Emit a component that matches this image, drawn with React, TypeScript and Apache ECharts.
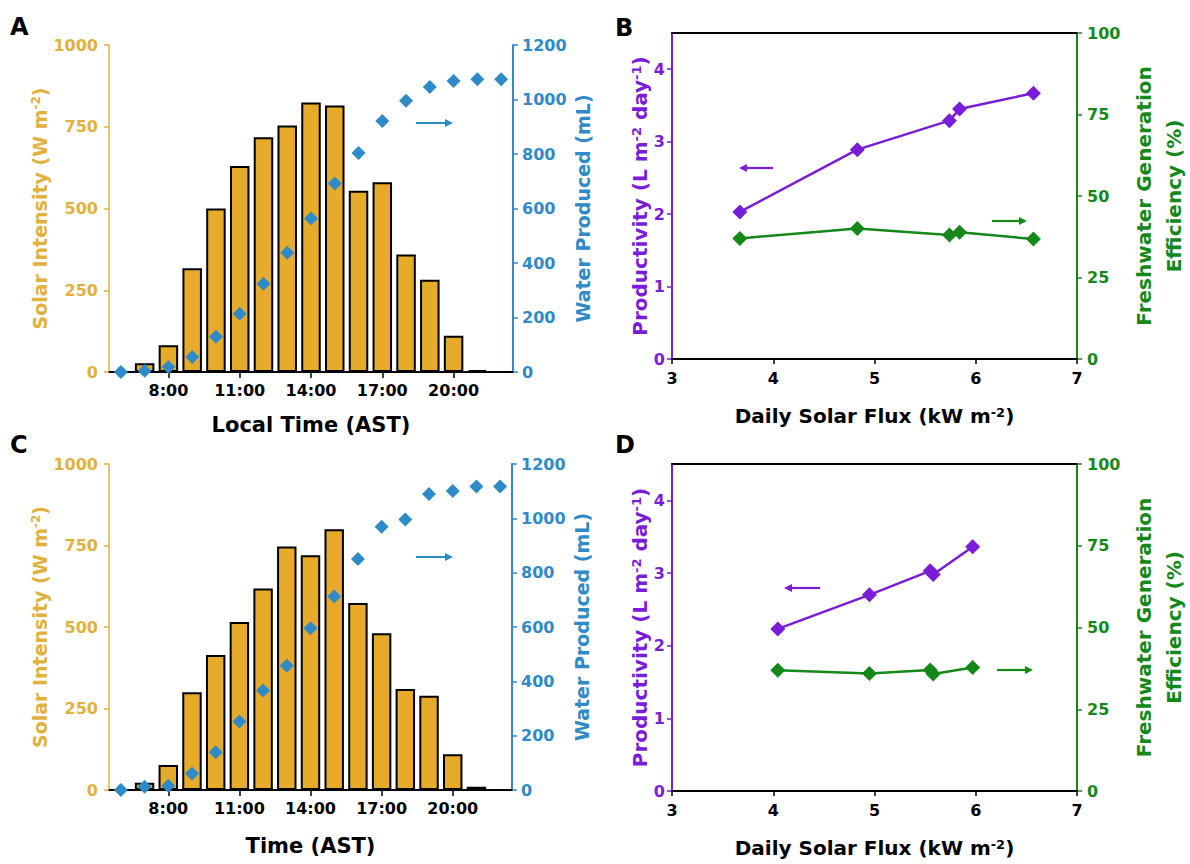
import React, { useEffect, useRef } from 'react';
import * as echarts from 'echarts';

// ---------- data ----------
const hours = ['6:00', '7:00', '8:00', '9:00', '10:00', '11:00', '12:00', '13:00', '14:00', '15:00', '16:00', '17:00', '18:00', '19:00', '20:00', '21:00', '22:00'];
const labeledHours = ['8:00', '11:00', '14:00', '17:00', '20:00'];

const solarA = [null, 27, 82, 317, 500, 630, 718, 754, 824, 815, 554, 580, 359, 282, 111, 6, null];
const waterA = [0, 5, 18, 55, 129, 214, 324, 438, 563, 692, 804, 921, 995, 1046, 1068, 1074, 1074];

const solarC = [null, 22, 77, 300, 414, 515, 618, 747, 720, 800, 574, 481, 310, 289, 110, 10, null];
const waterC = [0, 12, 16, 61, 139, 252, 366, 457, 595, 712, 850, 969, 996, 1090, 1101, 1117, 1117];

const fluxB = [3.67, 4.83, 5.74, 5.84, 6.57];
const prodB = [2.03, 2.89, 3.29, 3.45, 3.67];
const effB = [37.0, 40.0, 38.0, 38.9, 36.8];

const fluxD = [4.045, 4.95, 5.55, 5.58, 5.97];
const prodD = [2.23, 2.70, 3.03, 2.98, 3.36];
const effD = [36.9, 35.9, 37.0, 35.8, 37.8];

const prodTicks = [0, 1, 2, 3, 4];

// ---------- styles ----------
const FONT = '"DejaVu Sans", "Liberation Sans", sans-serif';
const GOLD = '#E2B13C';
const BAR = '#E6AB2B';
const BLUE = '#2E8BC8';
const PURPLE = '#7A1DD8';
const GREEN = '#14891A';

const plain = (v: number) => String(v);

const supStyle = (color: string, size = 12) => ({
  fontSize: size,
  fontWeight: 'bold',
  fontFamily: FONT,
  color,
  verticalAlign: 'top',
});

const tickLabel = (color: string, margin: number) => ({
  color,
  fontSize: 16,
  fontWeight: 'bold',
  fontFamily: FONT,
  margin,
  formatter: plain,
});

function catBottomAxis(gridIndex: number, name: string, gap: number) {
  return {
    type: 'category',
    gridIndex,
    data: hours,
    position: 'bottom',
    boundaryGap: true,
    name,
    nameLocation: 'middle',
    nameGap: gap,
    nameTextStyle: { fontSize: 21, fontWeight: 'bold', fontFamily: FONT, color: '#000' },
    axisLine: { lineStyle: { color: '#000', width: 2 } },
    axisTick: {
      show: true,
      alignWithLabel: true,
      interval: (i: number, v: string) => labeledHours.includes(v),
      length: 6,
      lineStyle: { color: '#000', width: 1.5 },
    },
    axisLabel: {
      color: '#000',
      fontSize: 16,
      fontWeight: 'bold',
      fontFamily: FONT,
      margin: 10,
      interval: (i: number, v: string) => labeledHours.includes(v),
    },
    splitLine: { show: false },
  };
}

function catTopAxis(gridIndex: number) {
  return {
    type: 'category',
    gridIndex,
    data: hours,
    position: 'top',
    axisLine: { lineStyle: { color: '#000', width: 2 } },
    axisTick: { show: false },
    axisLabel: { show: false },
    splitLine: { show: false },
  };
}

function fluxBottomAxis(gridIndex: number, gap: number) {
  return {
    type: 'value',
    gridIndex,
    min: 3,
    max: 7,
    interval: 1,
    position: 'bottom',
    name: 'Daily Solar Flux (kW m{sup|-2})',
    nameLocation: 'middle',
    nameGap: gap,
    nameTextStyle: {
      fontSize: 20, fontWeight: 'bold', fontFamily: FONT, color: '#000',
      rich: { sup: supStyle('#000', 13) },
    },
    axisLine: { onZero: false, lineStyle: { color: '#000', width: 2 } },
    axisTick: { show: true, length: 5, lineStyle: { color: '#000', width: 1.5 } },
    axisLabel: tickLabel('#000', 11),
    splitLine: { show: false },
  };
}

function fluxTopAxis(gridIndex: number) {
  return {
    type: 'value',
    gridIndex,
    min: 3,
    max: 7,
    interval: 1,
    position: 'top',
    axisLine: { onZero: false, lineStyle: { color: '#000', width: 2 } },
    axisTick: { show: false },
    axisLabel: { show: false },
    splitLine: { show: false },
  };
}

function solarAxis(gridIndex: number) {
  return {
    type: 'value',
    gridIndex,
    position: 'left',
    min: 0,
    max: 1000,
    interval: 250,
    name: 'Solar Intensity (W m{sup|-2})',
    nameLocation: 'middle',
    nameRotate: 90,
    nameGap: 60,
    nameTextStyle: {
      fontSize: 19, fontWeight: 'bold', fontFamily: FONT, color: GOLD,
      rich: { sup: supStyle(GOLD, 12) },
    },
    axisLine: { show: true, onZero: false, lineStyle: { color: GOLD, width: 1.5 } },
    axisTick: { show: true, length: 5, lineStyle: { color: GOLD, width: 1.5 } },
    axisLabel: tickLabel(GOLD, 11),
    splitLine: { show: false },
  };
}

function waterAxis(gridIndex: number) {
  return {
    type: 'value',
    gridIndex,
    position: 'right',
    min: 0,
    max: 1200,
    interval: 200,
    name: 'Water Produced (mL)',
    nameLocation: 'middle',
    nameRotate: 90,
    nameGap: 60,
    nameTextStyle: { fontSize: 19, fontWeight: 'bold', fontFamily: FONT, color: BLUE },
    axisLine: { show: true, onZero: false, lineStyle: { color: BLUE, width: 2 } },
    axisTick: { show: true, length: 5, lineStyle: { color: BLUE, width: 1.5 } },
    axisLabel: tickLabel(BLUE, 9),
    splitLine: { show: false },
  };
}

function prodAxis(gridIndex: number) {
  return {
    type: 'value',
    gridIndex,
    position: 'left',
    min: 0,
    max: 4.5,
    interval: 1,
    name: 'Productivity (L m{sup|-2} day{sup|-1})',
    nameLocation: 'middle',
    nameRotate: 90,
    nameGap: 22,
    nameTextStyle: {
      fontSize: 20, fontWeight: 'bold', fontFamily: FONT, color: PURPLE,
      rich: { sup: supStyle(PURPLE, 13) },
    },
    axisLine: { show: true, onZero: false, lineStyle: { color: PURPLE, width: 2 } },
    axisTick: { show: true, length: 5, customValues: prodTicks, lineStyle: { color: PURPLE, width: 1.5 } },
    axisLabel: { ...tickLabel(PURPLE, 7), customValues: prodTicks },
    splitLine: { show: false },
  };
}

function effAxis(gridIndex: number) {
  return {
    type: 'value',
    gridIndex,
    position: 'right',
    min: 0,
    max: 100,
    interval: 25,
    name: 'Freshwater Generation\nEfficiency (%)',
    nameLocation: 'middle',
    nameRotate: 90,
    nameGap: 52,
    nameTextStyle: { fontSize: 20, lineHeight: 30, fontWeight: 'bold', fontFamily: FONT, color: GREEN },
    axisLine: { show: true, onZero: false, lineStyle: { color: GREEN, width: 2 } },
    axisTick: { show: true, length: 5, lineStyle: { color: GREEN, width: 1.5 } },
    axisLabel: tickLabel(GREEN, 10),
    splitLine: { show: false },
  };
}

function barSeries(xi: number, yi: number, data: (number | null)[]) {
  return {
    type: 'bar',
    xAxisIndex: xi,
    yAxisIndex: yi,
    data,
    barCategoryGap: '18%',
    itemStyle: { color: BAR, borderColor: '#000', borderWidth: 2 },
    z: 2,
  };
}

function waterSeries(xi: number, yi: number, data: number[]) {
  return {
    type: 'scatter',
    xAxisIndex: xi,
    yAxisIndex: yi,
    data,
    symbol: 'diamond',
    symbolSize: 14,
    itemStyle: { color: BLUE, opacity: 1 },
    z: 3,
  };
}

function lineSeries(xi: number, yi: number, xs: number[], ys: number[], color: string) {
  return {
    type: 'line',
    xAxisIndex: xi,
    yAxisIndex: yi,
    data: xs.map((x, i) => [x, ys[i]]),
    symbol: 'diamond',
    symbolSize: 15,
    showSymbol: true,
    lineStyle: { color, width: 2.5 },
    itemStyle: { color, opacity: 1 },
    z: 3,
  };
}

function arrow(x1: number, x2: number, y: number, dir: 'left' | 'right', color: string) {
  const tip = dir === 'right' ? x2 : x1;
  const back = dir === 'right' ? x2 - 8 : x1 + 8;
  return {
    type: 'group',
    children: [
      {
        type: 'line',
        shape: { x1: dir === 'right' ? x1 : x1 + 4, y1: y, x2: dir === 'right' ? x2 - 4 : x2, y2: y },
        style: { stroke: color, lineWidth: 2.2 },
      },
      {
        type: 'polygon',
        shape: { points: [[tip, y], [back, y - 4], [back, y + 4]] },
        style: { fill: color },
      },
    ],
  };
}

function panelLetter(text: string, left: number, top: number) {
  return {
    type: 'text',
    left,
    top,
    style: { text, font: `bold 24px ${FONT}`, fill: '#000' },
  };
}

export default function App() {
  const ref = useRef<HTMLDivElement>(null);

  useEffect(() => {
    if (!ref.current) return;
    const chart = echarts.init(ref.current, undefined, { renderer: 'svg' });
    const option: any = {
      animation: false,
      backgroundColor: '#fff',
      grid: [
        { left: 109, top: 45, width: 404, height: 327 },
        { left: 672, top: 33, width: 405, height: 326 },
        { left: 109, top: 464, width: 403, height: 326 },
        { left: 672, top: 464, width: 405, height: 327 },
      ],
      xAxis: [
        catBottomAxis(0, 'Local Time (AST)', 42),
        catTopAxis(0),
        fluxBottomAxis(1, 47),
        fluxTopAxis(1),
        catBottomAxis(2, 'Time (AST)', 45),
        catTopAxis(2),
        fluxBottomAxis(3, 47),
        fluxTopAxis(3),
      ],
      yAxis: [
        solarAxis(0),
        waterAxis(0),
        prodAxis(1),
        effAxis(1),
        solarAxis(2),
        waterAxis(2),
        prodAxis(3),
        effAxis(3),
      ],
      series: [
        barSeries(0, 0, solarA),
        waterSeries(0, 1, waterA),
        lineSeries(2, 2, fluxB, prodB, PURPLE),
        lineSeries(2, 3, fluxB, effB, GREEN),
        barSeries(4, 4, solarC),
        waterSeries(4, 5, waterC),
        lineSeries(6, 6, fluxD, prodD, PURPLE),
        lineSeries(6, 7, fluxD, effD, GREEN),
      ],
      graphic: [
        panelLetter('A', 10, 15),
        panelLetter('B', 615, 16),
        panelLetter('C', 10, 433),
        panelLetter('D', 615, 433),
        arrow(416, 453, 123, 'right', BLUE),
        arrow(416, 453, 557, 'right', BLUE),
        arrow(739, 773, 168, 'left', PURPLE),
        arrow(992, 1027, 221, 'right', GREEN),
        arrow(784, 820, 588, 'left', PURPLE),
        arrow(997, 1033, 670, 'right', GREEN),
      ],
    };
    chart.setOption(option);
    return () => chart.dispose();
  }, []);

  return (
    <div
      ref={ref}
      style={{ position: 'absolute', left: 0, top: 0, width: 1190, height: 864, background: '#fff' }}
    />
  );
}
